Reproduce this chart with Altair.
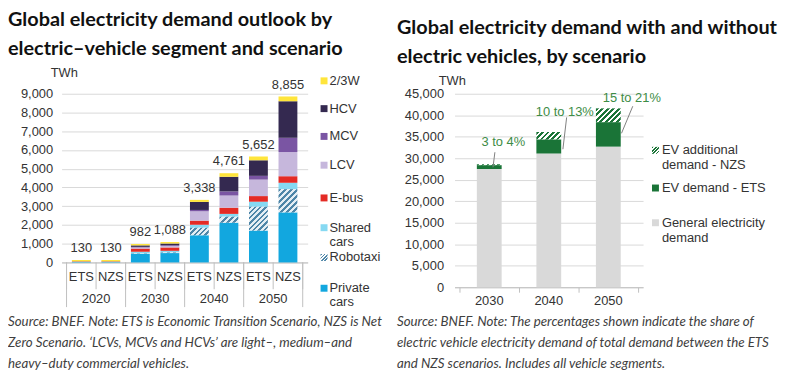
import altair as alt
import pandas as pd

# ---------------- data: left chart (TWh) ----------------
years = ["2020", "2030", "2040", "2050"]
scenarios = ["ETS", "NZS"]
segments = ["Private cars", "Robotaxi", "Shared cars", "E-bus", "LCV", "MCV", "HCV", "2/3W"]
# bar order: 2020 ETS, 2020 NZS, 2030 ETS, 2030 NZS, 2040 ETS, 2040 NZS, 2050 ETS, 2050 NZS
private_cars = [25, 25, 450, 500, 1450, 2120, 1700, 2670]
robotaxi = [0, 0, 20, 30, 400, 320, 1270, 1240]
shared_cars = [0, 0, 100, 90, 160, 150, 270, 340]
e_bus = [20, 20, 170, 180, 220, 330, 300, 350]
lcv = [5, 5, 60, 80, 500, 650, 880, 1290]
mcv = [0, 0, 30, 40, 70, 220, 200, 760]
hcv = [10, 10, 80, 90, 430, 780, 830, 1950]
two_three_w = [70, 70, 72, 78, 108, 191, 202, 255]
totals = [130, 130, 982, 1088, 3338, 4761, 5652, 8855]
left_ticks = [0, 1000, 2000, 3000, 4000, 5000, 6000, 7000, 8000, 9000]

# ---------------- data: right chart (TWh) ----------------
rt_years = ["2030", "2040", "2050"]
general_demand = [27500, 31100, 32700]
ev_demand_ets = [900, 3300, 5700]
ev_additional_nzs = [200, 1700, 3200]
share_labels = ["3 to 4%", "10 to 13%", "15 to 21%"]
share_label_y = [33700, 40700, 44100]
leader_from_y = [31400, 39500, 42100]
leader_to_y = [27900, 32100, 35800]
right_ticks = [0, 5000, 10000, 15000, 20000, 25000, 30000, 35000, 40000, 45000]

left_title = ["Global electricity demand outlook by", "electric\u2013vehicle segment and scenario"]
right_title = ["Global electricity demand with and without", "electric vehicles, by scenario"]
left_note = [
    "Source: BNEF. Note: ETS is Economic Transition Scenario, NZS is Net",
    "Zero Scenario. \u2018LCVs, MCVs and HCVs\u2019 are light\u2013, medium\u2013and",
    "heavy\u2013duty commercial vehicles.",
]
right_note = [
    "Source: BNEF. Note: The percentages shown indicate the share of",
    "electric vehicle electricity demand of total demand between the ETS",
    "and NZS scenarios. Includes all vehicle segments.",
]

# ---------------- styling ----------------
AX_FONT = "Liberation Sans"
TXT = "#333333"
GRID = "#d9d9d9"
LINE = "#bfbfbf"
seg_colors = {
    "Private cars": "#12a7df",
    "Shared cars": "#86d9f2",
    "E-bus": "#e42b25",
    "LCV": "#c6b7dc",
    "MCV": "#7a55a3",
    "HCV": "#342950",
    "2/3W": "#ffe53b",
}
ROBO_C1, ROBO_C2 = "#4e86a8", "#e4eef4"
GREY, GREEN, ANN_GREEN = "#d9d9d9", "#1a7437", "#3d8c46"
NOTE_SIZE = 13.4
TITLE_SIZE = 20

W1, H1, BAR1 = 248, 170, 19
W2, H2, BAR2 = 190, 195, 25


def hatch(w, h, c1, c2, period=4.0, duty=0.5):
    s = (w + h) / (w * w + h * h)
    span = (w + h) / 2 ** 0.5
    n = max(1, round(span / period))
    stops = []
    for k in range(n):
        a, b, c = k / n, (k + duty) / n, (k + 1) / n
        stops += [
            alt.GradientStop(offset=a, color=c1),
            alt.GradientStop(offset=b, color=c1),
            alt.GradientStop(offset=b, color=c2),
            alt.GradientStop(offset=c, color=c2),
        ]
    return alt.LinearGradient(gradient="linear", x1=0, y1=0, x2=w * s, y2=h * s, stops=stops)


one = pd.DataFrame({"k": [0]})


def vtext(txt, x, y, size=13, color=TXT, align="left", font=AX_FONT, style=None, weight=None):
    kw = dict(align=align, baseline="middle", fontSize=size, font=font, color=color)
    if style:
        kw["fontStyle"] = style
    if weight:
        kw["fontWeight"] = weight
    return alt.Chart(one).mark_text(**kw).encode(
        x=alt.value(x), y=alt.value(y), text=alt.value(txt)
    )


def vrect(x, y, size, fill):
    return alt.Chart(one).mark_rect(color=fill).encode(
        x=alt.value(x), x2=alt.value(x + size), y=alt.value(y - size / 2), y2=alt.value(y + size / 2)
    )


# ================= LEFT CHART =================
series_vals = [private_cars, robotaxi, shared_cars, e_bus, lcv, mcv, hcv, two_three_w]
rows = []
for i in range(len(totals)):
    cum = 0
    for name, vals in zip(segments, series_vals):
        v = vals[i]
        if v > 0:
            rows.append({"pos": i + 0.5, "segment": name, "y0": cum, "y1": cum + v})
            cum += v
df_left = pd.DataFrame(rows)

xs1 = alt.Scale(domain=[0, len(totals)], nice=False, zero=False)
ys1 = alt.Scale(domain=[0, left_ticks[-1]], nice=False)
xaxis1 = alt.Axis(labels=False, ticks=False, grid=False, domainColor=LINE, title=None)
yaxis1 = alt.Axis(values=left_ticks, format=",.0f", grid=True, gridColor=GRID, domain=False,
                  ticks=False, labelPadding=9, title=None)
X1 = alt.X("pos:Q", scale=xs1, axis=xaxis1)

solid_names = [s for s in segments if s != "Robotaxi"]
solid = alt.Chart(df_left[df_left.segment != "Robotaxi"]).mark_bar(width=BAR1).encode(
    x=X1,
    y=alt.Y("y0:Q", scale=ys1, axis=yaxis1),
    y2="y1:Q",
    color=alt.Color("segment:N", scale=alt.Scale(domain=solid_names,
                    range=[seg_colors[s] for s in solid_names]), legend=None),
)
left_layers = [solid]
for _, r in df_left[df_left.segment == "Robotaxi"].iterrows():
    h = (r.y1 - r.y0) * H1 / left_ticks[-1]
    left_layers.append(
        alt.Chart(pd.DataFrame([r.to_dict()])).mark_bar(width=BAR1, color=hatch(BAR1, h, ROBO_C1, ROBO_C2, 4.0, 0.45)).encode(
            x=X1, y=alt.Y("y0:Q", scale=ys1, axis=yaxis1), y2="y1:Q"
        )
    )

df_tot = pd.DataFrame({"pos": [i + 0.5 for i in range(len(totals))], "total": totals,
                       "label": [f"{t:,}" for t in totals]})
left_layers.append(
    alt.Chart(df_tot).mark_text(dy=-12, baseline="middle", fontSize=13, font=AX_FONT, color=TXT).encode(
        x=X1, y=alt.Y("total:Q", scale=ys1, axis=yaxis1), text="label:N"
    )
)
# category separators
df_b = pd.DataFrame({"pos": list(range(len(totals) + 1))})
left_layers.append(alt.Chart(df_b).mark_rule(color=LINE).encode(x=X1, y=alt.value(H1), y2=alt.value(H1 + 27)))
df_g = pd.DataFrame({"pos": list(range(0, len(totals) + 1, len(scenarios)))})
left_layers.append(alt.Chart(df_g).mark_rule(color=LINE).encode(x=X1, y=alt.value(H1), y2=alt.value(H1 + 45)))
df_sc = pd.DataFrame({"pos": [i + 0.5 for i in range(len(totals))],
                      "label": [s for _ in years for s in scenarios]})
left_layers.append(alt.Chart(df_sc).mark_text(baseline="middle", fontSize=13, font=AX_FONT, color=TXT).encode(
    x=X1, y=alt.value(H1 + 15), text="label:N"))
df_yr = pd.DataFrame({"pos": [g * len(scenarios) + len(scenarios) / 2 for g in range(len(years))], "label": years})
left_layers.append(alt.Chart(df_yr).mark_text(baseline="middle", fontSize=13, font=AX_FONT, color=TXT).encode(
    x=X1, y=alt.value(H1 + 37), text="label:N"))
left_layers.append(vtext("TWh", -11, -21))

# legend (top to bottom)
legend_order = ["2/3W", "HCV", "MCV", "LCV", "E-bus", "Shared cars", "Robotaxi", "Private cars"]
legend_y = [-13, 15, 43, 72, 105, 135, 165, 196]
for name, ly in zip(legend_order, legend_y):
    lines = name.split(" ") if name in ("Shared cars", "Private cars") else [name]
    if name == "Robotaxi":
        left_layers.append(alt.Chart(one).mark_rect(color=hatch(7, 7, ROBO_C1, "#ffffff", 2.5, 0.5)).encode(
            x=alt.value(261), x2=alt.value(268), y=alt.value(ly - 3.5), y2=alt.value(ly + 3.5)))
    else:
        left_layers.append(vrect(261, ly, 7, seg_colors[name]))
    for j, ln in enumerate(lines):
        left_layers.append(vtext(ln, 270, ly + 14 * j))

for j, ln in enumerate(left_note):
    left_layers.append(vtext(ln, -54, 230 + 21 * j, size=NOTE_SIZE, color="#404040", font="Lato", style="italic"))

left = alt.layer(*left_layers).properties(
    width=W1, height=H1,
    title=alt.TitleParams(left_title, anchor="start", frame="group", dx=-54, fontSize=TITLE_SIZE, font="Lato",
                          fontWeight="bold", lineHeight=29, offset=8, color="#111111"),
)

# ================= RIGHT CHART =================
rrows = []
for i in range(len(rt_years)):
    g, e, n = general_demand[i], ev_demand_ets[i], ev_additional_nzs[i]
    rrows.append({"pos": i + 0.5, "part": "General", "y0": 0, "y1": g})
    rrows.append({"pos": i + 0.5, "part": "ETS", "y0": g, "y1": g + e})
    rrows.append({"pos": i + 0.5, "part": "NZS", "y0": g + e, "y1": g + e + n})
df_right = pd.DataFrame(rrows)

xs2 = alt.Scale(domain=[0, len(rt_years)], nice=False, zero=False)
ys2 = alt.Scale(domain=[0, right_ticks[-1]], nice=False)
xaxis2 = alt.Axis(values=list(range(len(rt_years) + 1)), labels=False, ticks=True, tickSize=5,
                  tickColor=LINE, grid=False, domainColor=LINE, title=None)
yaxis2 = alt.Axis(values=right_ticks, format=",.0f", grid=True, gridColor=GRID, domain=False,
                  ticks=False, labelPadding=11, title=None)
X2 = alt.X("pos:Q", scale=xs2, axis=xaxis2)

right_layers = [
    alt.Chart(df_right[df_right.part != "NZS"]).mark_bar(width=BAR2).encode(
        x=X2, y=alt.Y("y0:Q", scale=ys2, axis=yaxis2), y2="y1:Q",
        color=alt.Color("part:N", scale=alt.Scale(domain=["General", "ETS"], range=[GREY, GREEN]), legend=None),
    )
]
for _, r in df_right[df_right.part == "NZS"].iterrows():
    h = (r.y1 - r.y0) * H2 / right_ticks[-1]
    right_layers.append(
        alt.Chart(pd.DataFrame([r.to_dict()])).mark_bar(width=BAR2, color=hatch(BAR2, h, GREEN, "#ffffff", 4.0, 0.5)).encode(
            x=X2, y=alt.Y("y0:Q", scale=ys2, axis=yaxis2), y2="y1:Q"
        )
    )

step2 = W2 / len(rt_years)
ann_text_dx = [15, 17, 25]
leader_dx = [(6, 4), (19, 15), (26, 14)]
df_ann = pd.DataFrame({
    "tx": [i + 0.5 + ann_text_dx[i] / step2 for i in range(len(rt_years))],
    "ty": share_label_y,
    "label": share_labels,
    "lx1": [i + 0.5 + leader_dx[i][0] / step2 for i in range(len(rt_years))],
    "lx2": [i + 0.5 + leader_dx[i][1] / step2 for i in range(len(rt_years))],
    "ly1": leader_from_y,
    "ly2": leader_to_y,
})
right_layers.append(alt.Chart(df_ann).mark_rule(color="#808080").encode(
    x=alt.X("lx1:Q", scale=xs2, axis=xaxis2), x2="lx2:Q",
    y=alt.Y("ly1:Q", scale=ys2, axis=yaxis2), y2="ly2:Q"))
right_layers.append(alt.Chart(df_ann).mark_text(baseline="middle", fontSize=13, font=AX_FONT, color=ANN_GREEN).encode(
    x=alt.X("tx:Q", scale=xs2, axis=xaxis2), y=alt.Y("ty:Q", scale=ys2, axis=yaxis2), text="label:N"))

df_ry = pd.DataFrame({"pos": [i + 0.5 for i in range(len(rt_years))], "label": rt_years})
right_layers.append(alt.Chart(df_ry).mark_text(baseline="middle", fontSize=13, font=AX_FONT, color=TXT).encode(
    x=X2, y=alt.value(H2 + 14), text="label:N"))
right_layers.append(vtext("TWh", -16, -13))

right_legend = [
    (["EV additional", "demand - NZS"], 57, "hatch"),
    (["EV demand - ETS"], 95, GREEN),
    (["General electricity", "demand"], 130, GREY),
]
for lines, ly, fill in right_legend:
    if fill == "hatch":
        right_layers.append(alt.Chart(one).mark_rect(color=hatch(7, 7, GREEN, "#ffffff", 2.5, 0.5)).encode(
            x=alt.value(199), x2=alt.value(206), y=alt.value(ly - 3.5), y2=alt.value(ly + 3.5)))
    else:
        right_layers.append(vrect(199, ly, 7, fill))
    for j, ln in enumerate(lines):
        right_layers.append(vtext(ln, 209, ly + 15 * j))

for j, ln in enumerate(right_note):
    right_layers.append(vtext(ln, -58, 230 + 21 * j, size=NOTE_SIZE, color="#404040", font="Lato", style="italic"))

right = alt.layer(*right_layers).properties(
    width=W2, height=H2,
    title=alt.TitleParams(right_title, anchor="start", frame="group", dx=-58, fontSize=TITLE_SIZE, font="Lato",
                          fontWeight="bold", lineHeight=29, offset=8, color="#111111"),
)

chart = (
    alt.hconcat(left, right, spacing=148, bounds="flush")
    .resolve_scale(color="independent")
    .properties(padding={"left": 0, "top": 1, "right": 0, "bottom": 0})
    .configure_view(stroke=None)
    .configure_axis(labelFont=AX_FONT, labelFontSize=13, labelColor=TXT)
)

chart.save("out.html", embed_options={"renderer": "svg", "actions": False})
